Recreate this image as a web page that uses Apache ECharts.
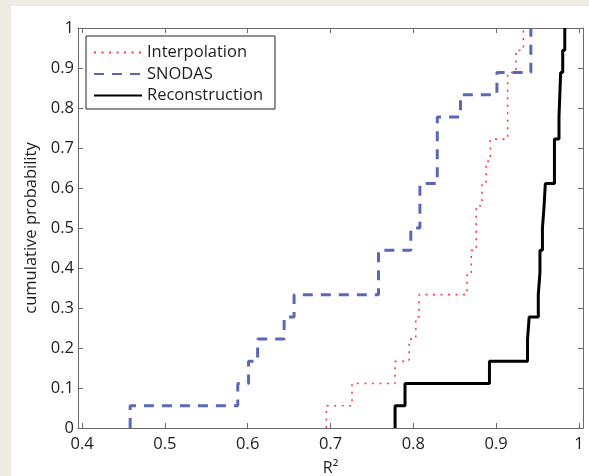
<!DOCTYPE html>
<html>
<head>
<meta charset="utf-8">
<script src="https://cdn.jsdelivr.net/npm/echarts@6/dist/echarts.min.js"></script>
<style>
  html, body { margin: 0; padding: 0; background: #eeebe2; }
  #panel { position: absolute; left: 11px; top: 6px; width: 578px; height: 470px; background: #ffffff; }
  #chart { position: absolute; left: 0; top: 0; width: 589px; height: 476px; }
</style>
</head>
<body>
<div id="panel"></div>
<div id="chart"></div>
<script>
// R² of each of the 18 sites, per method (sorted ascending)
const interpolation = [0.695, 0.726, 0.778, 0.795, 0.803, 0.807, 0.865, 0.870, 0.876,
                       0.876, 0.883, 0.888, 0.893, 0.914, 0.914, 0.914, 0.924, 0.933];
const snodas = [0.458, 0.588, 0.601, 0.612, 0.644, 0.656, 0.758, 0.758, 0.797,
                0.808, 0.808, 0.829, 0.829, 0.829, 0.857, 0.901, 0.942, 0.942];
const reconstruction = [0.778, 0.790, 0.892, 0.938, 0.940, 0.951, 0.953, 0.953, 0.956,
                        0.958, 0.9595, 0.9705, 0.9705, 0.976, 0.977, 0.978, 0.9805, 0.983];

const xTicks = [0.4, 0.5, 0.6, 0.7, 0.8, 0.9, 1.0];
const seriesNames = ['Interpolation', 'SNODAS', 'Reconstruction'];

// Empirical CDF as stair points: start at (x1, 0), then (xk, k/n)
function ecdf(values) {
  const v = values.slice().sort((a, b) => a - b);
  const n = v.length;
  const pts = [[v[0], 0]];
  v.forEach((x, i) => pts.push([x, (i + 1) / n]));
  return pts;
}

const axisColor = '#6a6a6a';
const labelColor = '#1e1e1e';
const font = '"Open Sans", "Noto Sans", sans-serif';

const chart = echarts.init(document.getElementById('chart'), null, { renderer: 'canvas' });

chart.setOption({
  animation: false,
  backgroundColor: 'transparent',
  grid: { left: 78, right: 6, top: 28, bottom: 48, containLabel: false, outerBoundsMode: 'none' },
  legend: {
    orient: 'vertical',
    left: 86,
    top: 36,
    data: seriesNames,
    backgroundColor: '#ffffff',
    borderColor: '#222222',
    borderWidth: 1,
    borderRadius: 0,
    padding: [8, 12, 5, 7],
    itemWidth: 48,
    itemHeight: 16,
    itemGap: 4.5,
    itemStyle: { opacity: 0 },
    textStyle: { fontFamily: font, fontSize: 16.5, color: labelColor, lineHeight: 16 }
  },
  xAxis: [
    {
      type: 'value', min: 0.395, max: 1.005,
      name: 'R²', nameLocation: 'middle', nameGap: 32,
      nameTextStyle: { fontFamily: font, fontSize: 16, color: labelColor },
      axisLine: { show: true, onZero: false, lineStyle: { color: axisColor, width: 1 } },
      axisTick: { show: true, inside: true, length: 5, customValues: xTicks, lineStyle: { color: axisColor } },
      axisLabel: { show: true, customValues: xTicks, margin: 8, fontFamily: font, fontSize: 16.5, color: labelColor,
                   formatter: v => String(+v.toFixed(1)) },
      splitLine: { show: false }
    },
    {
      type: 'value', position: 'top', min: 0.395, max: 1.005,
      axisLine: { show: true, onZero: false, lineStyle: { color: axisColor, width: 1 } },
      axisTick: { show: true, inside: true, length: 5, customValues: xTicks, lineStyle: { color: axisColor } },
      axisLabel: { show: false },
      splitLine: { show: false }
    }
  ],
  yAxis: [
    {
      type: 'value', min: 0, max: 1, interval: 0.1,
      name: 'cumulative probability', nameLocation: 'middle', nameGap: 37,
      nameTextStyle: { fontFamily: font, fontSize: 16.5, color: labelColor },
      axisLine: { show: true, onZero: false, lineStyle: { color: axisColor, width: 1 } },
      axisTick: { show: true, inside: true, length: 5, lineStyle: { color: axisColor } },
      axisLabel: { show: true, margin: 4, fontFamily: font, fontSize: 16.5, color: labelColor,
                   formatter: v => String(+v.toFixed(1)) },
      splitLine: { show: false }
    },
    {
      type: 'value', position: 'right', min: 0, max: 1, interval: 0.1,
      axisLine: { show: true, onZero: false, lineStyle: { color: axisColor, width: 1 } },
      axisTick: { show: true, inside: true, length: 5, lineStyle: { color: axisColor } },
      axisLabel: { show: false },
      splitLine: { show: false }
    }
  ],
  series: [
    {
      name: 'Interpolation', type: 'line', step: 'end', symbol: 'none',
      data: ecdf(interpolation),
      lineStyle: { color: '#ff3b3b', width: 1.6, type: [2, 5.5] },
      itemStyle: { color: '#ff3b3b' }
    },
    {
      name: 'SNODAS', type: 'line', step: 'end', symbol: 'none',
      data: ecdf(snodas),
      lineStyle: { color: '#5b68b6', width: 3, type: [10, 8] },
      itemStyle: { color: '#5b68b6' }
    },
    {
      name: 'Reconstruction', type: 'line', step: 'end', symbol: 'none',
      data: ecdf(reconstruction),
      lineStyle: { color: '#000000', width: 3, type: 'solid' },
      itemStyle: { color: '#000000' }
    }
  ]
});
</script>
</body>
</html>
